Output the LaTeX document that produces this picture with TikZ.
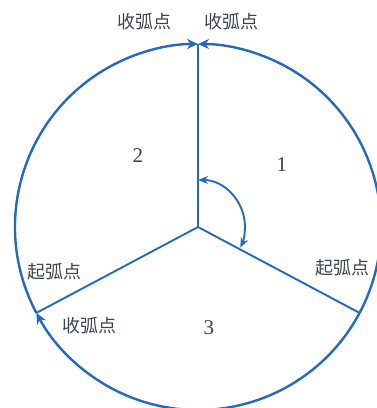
\documentclass[tikz,border=0pt]{standalone}
\usepackage{fontspec}
\newfontfamily\cjk{Noto Sans CJK SC}
\newfontfamily\numfont{Liberation Serif}
\usetikzlibrary{arrows.meta}
\definecolor{lineblue}{RGB}{35,105,195}
\definecolor{txtgray}{RGB}{60,68,80}
\begin{document}
\begin{tikzpicture}[x=1pt,y=1pt,
  edge/.style={draw=lineblue,line width=1.9pt},
  rim/.style={draw=lineblue,line width=2.4pt},
  tip/.style={-{Stealth[length=11pt,width=10pt]}},
  lbl/.style={text=txtgray,font=\cjk\fontsize{18}{18}\selectfont,inner sep=0pt},
  num/.style={text=txtgray,font=\numfont\fontsize{21}{21}\selectfont,inner sep=0pt}]
\useasboundingbox (-198,-181) rectangle (178,227);
\coordinate (O) at (0,0);
\coordinate (T) at (90:183);
\coordinate (L) at (208:183);
\coordinate (R) at (-28:183);
\coordinate (a1) at (90:47);
% radii
\draw[edge] (O) -- (T);
\draw[edge] (O) -- (L);
\draw[edge] (O) -- (R);
% arcs
\draw[rim,tip] (R) arc[start angle=-28,end angle=90,radius=183];
\draw[rim,tip] (L) arc[start angle=208,end angle=90,radius=183];
\draw[rim,tip] (R) arc[start angle=-28,end angle=-152,radius=183];
% angle arrow
\draw[edge,{Stealth[length=10pt,width=8pt]}-{Stealth[length=10pt,width=8pt]}] (a1) arc[start angle=90,end angle=-26,radius=47];
% labels
\node[lbl] (tl) at (-53,205) {收弧点};
\node[lbl] (tr) at (34,205) {收弧点};
\node[lbl] (ls) at (-143,-45) {起弧点};
\node[lbl] (le) at (-108,-99) {收弧点};
\node[lbl] (rs) at (145,-41) {起弧点};
\node[num] (n2) at (-60,71) {2};
\node[num] (n1) at (84,62) {1};
\node[num] (n3) at (11,-101) {3};
\end{tikzpicture}
\end{document}
